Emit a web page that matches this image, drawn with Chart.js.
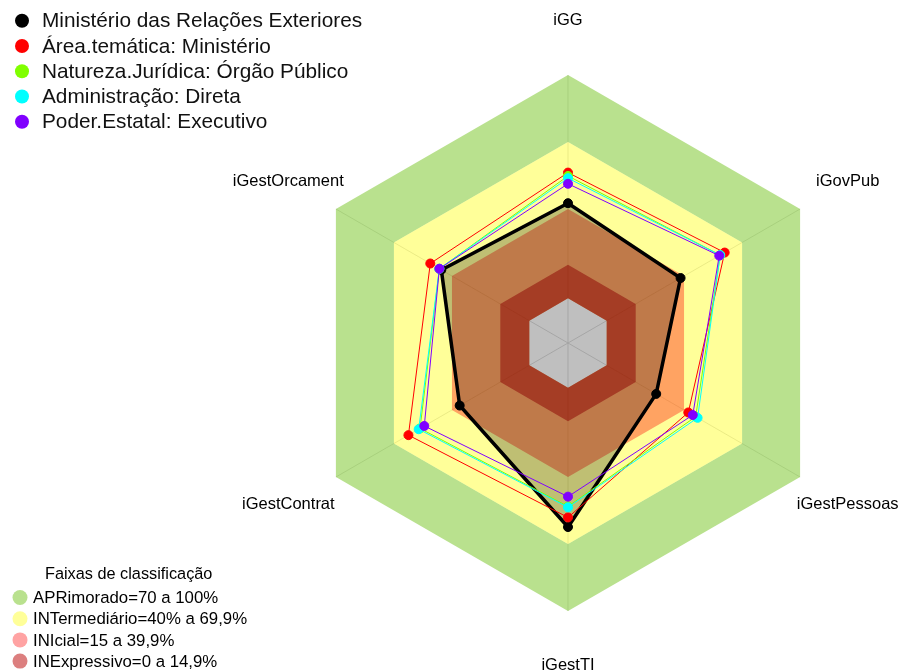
<!DOCTYPE html>
<html lang="pt-BR">
<head>
<meta charset="utf-8">
<title>Radar de governança</title>
<script src="https://cdn.jsdelivr.net/npm/chart.js@4.4.1/dist/chart.umd.min.js"></script>
<style>
  html, body { margin: 0; padding: 0; background: #fff; }
  canvas { display: block; }
</style>
</head>
<body>
<canvas id="radar" width="901" height="671"></canvas>
<script>
// ── Dados ─────────────────────────────────────────────────────
const eixos = ['iGG', 'iGovPub', 'iGestPessoas', 'iGestTI', 'iGestContrat', 'iGestOrcament'];

const seriesNomes = [
  'Ministério das Relações Exteriores',
  'Área.temática: Ministério',
  'Natureza.Jurídica: Órgão Público',
  'Administração: Direta',
  'Poder.Estatal: Executivo',
];
const mre              = [0.426, 0.382, 0.256, 0.624, 0.360, 0.455];
const areaTematica     = [0.563, 0.610, 0.422, 0.581, 0.625, 0.512];
const naturezaJuridica = [0.548, 0.587, 0.460, 0.532, 0.565, 0.465];
const administracao    = [0.538, 0.587, 0.470, 0.536, 0.572, 0.465];
const poderEstatal     = [0.513, 0.582, 0.445, 0.488, 0.543, 0.465];

const faixasTitulo  = 'Faixas de classificação';
const faixasNomes   = ['APRimorado=70 a 100%', 'INTermediário=40% a 69,9%', 'INIcial=15 a 39,9%', 'INExpressivo=0 a 14,9%'];
const faixasLimites = [1.0, 0.7, 0.4, 0.15];

// ── Estilos ───────────────────────────────────────────────────
const seriesCores  = ['#000000', '#ff0000', '#80ff00', '#00ffff', '#8000ff'];
const faixasCores  = ['rgba(115,195,30,0.5)', 'rgba(255,255,0,0.4)', 'rgba(255,0,0,0.36)', 'rgba(185,0,0,0.5)'];
const fonte        = '"Liberation Sans", Arial, sans-serif';

// ── Datasets ──────────────────────────────────────────────────
const valoresSeries = [mre, areaTematica, naturezaJuridica, administracao, poderEstatal];

const datasetsSeries = valoresSeries.map((valores, i) => ({
  label:                seriesNomes[i],
  data:                 valores,
  borderColor:          seriesCores[i],
  borderWidth:          i === 0 ? 3.5 : 1,
  backgroundColor:      i === 0 ? 'rgba(0,0,0,0.25)' : 'transparent',
  fill:                 i === 0 ? 'start' : false,
  pointRadius:          4.5,
  pointBorderWidth:     1,
  pointBackgroundColor: seriesCores[i],
  pointBorderColor:     seriesCores[i],
  order:                valoresSeries.length - i,
}));

const inicioFaixas = datasetsSeries.length;
const datasetsFaixas = faixasLimites.map((limite, i) => ({
  label:           faixasNomes[i],
  data:            eixos.map(() => limite),
  borderColor:     'rgba(0,0,0,0)',
  borderWidth:     0,
  backgroundColor: faixasCores[i],
  // a faixa externa vai só até a próxima, as demais partem do zero
  fill:            i === 0 ? inicioFaixas + 1 : 'origin',
  pointRadius:     0,
  order:           10 - i,
}));

// ── Rótulos dos eixos e legendas ──────────────────────────────
const rotulosELegendas = {
  id: 'rotulosELegendas',
  afterDraw(chart) {
    const ctx = chart.ctx;
    const r   = chart.scales.r;
    ctx.save();

    ctx.fillStyle    = '#000';
    ctx.textAlign    = 'center';
    ctx.textBaseline = 'middle';
    ctx.font         = '16.5px ' + fonte;
    eixos.forEach((nome, i) => {
      const p = r.getPointPosition(i, r.drawingArea * 1.205);
      ctx.fillText(nome, p.x, p.y);
    });

    ctx.textAlign = 'left';
    ctx.font      = '20.8px ' + fonte;
    seriesNomes.forEach((nome, i) => {
      const y = 20.7 + i * 25.25;
      ctx.beginPath();
      ctx.arc(22, y, 7, 0, Math.PI * 2);
      ctx.fillStyle = seriesCores[i];
      ctx.fill();
      ctx.fillStyle = '#111';
      ctx.fillText(nome, 42, y + 1);
    });

    ctx.fillStyle = '#000';
    ctx.font = '16.3px ' + fonte;
    ctx.fillText(faixasTitulo, 45, 575);
    ctx.font = '16.8px ' + fonte;
    faixasNomes.forEach((nome, i) => {
      const y = 597.5 + i * 21.2;
      ctx.beginPath();
      ctx.arc(20, y, 7.5, 0, Math.PI * 2);
      ctx.fillStyle = faixasCores[i];
      ctx.fill();
      ctx.fillStyle = '#000';
      ctx.fillText(nome, 33, y + 1);
    });

    ctx.restore();
  },
};

// ── Gráfico ───────────────────────────────────────────────────
new Chart(document.getElementById('radar'), {
  type: 'radar',
  data: {
    labels:   eixos,
    datasets: [...datasetsSeries, ...datasetsFaixas],
  },
  options: {
    responsive: false,
    animation:  false,
    events:     [],
    layout: {
      padding: { top: 75, bottom: 60, left: 300, right: 65 },
    },
    plugins: {
      legend:  { display: false },
      tooltip: { enabled: false },
      filler:  { drawTime: 'beforeDatasetsDraw' },
    },
    elements: {
      line: { tension: 0 },
    },
    scales: {
      r: {
        min:        -0.2,
        max:        1.0,
        startAngle: 0,
        z:          1,
        ticks:      { display: false },
        grid:       { display: false },
        angleLines: { display: true, color: 'rgba(215,215,215,0.85)', lineWidth: 1 },
        pointLabels: { display: false },
      },
    },
  },
  plugins: [rotulosELegendas],
});
</script>
</body>
</html>
